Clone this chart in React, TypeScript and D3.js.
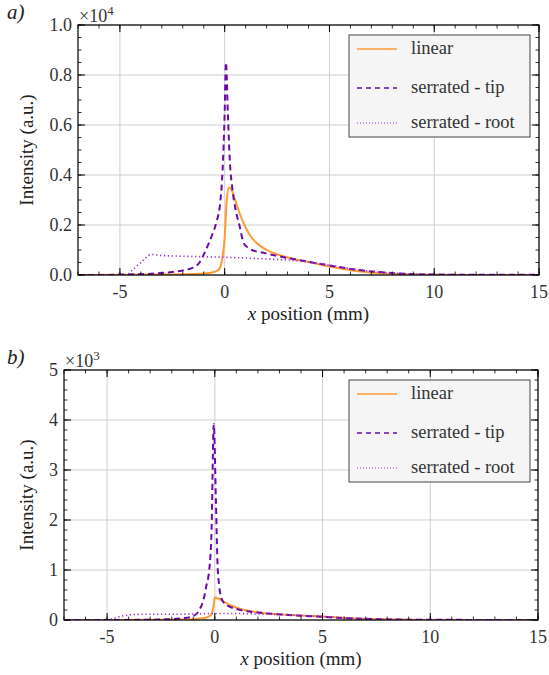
import React from "react";
import * as d3 from "d3";

// ---------- Data (panel a, intensity in units of 1e4) ----------
const aLinearX = [-7, -3, -1.5, -1, -0.6, -0.3, -0.15, 0, 0.1, 0.2, 0.3, 0.5, 0.7, 1, 1.2, 1.5, 2, 2.6, 3.4, 4, 5, 6, 6.6, 7.5, 8.2, 9, 10, 12, 15];
const aLinearY = [0, 0.002, 0.004, 0.006, 0.01, 0.02, 0.05, 0.15, 0.3, 0.35, 0.345, 0.3, 0.25, 0.19, 0.16, 0.13, 0.1, 0.08, 0.062, 0.052, 0.034, 0.02, 0.013, 0.007, 0.004, 0.002, 0.001, 0, 0];

const aTipX = [-7, -6, -4.7, -3.5, -3, -2.5, -2, -1.5, -1.2, -0.9, -0.6, -0.4, -0.2, -0.1, 0, 0.06, 0.15, 0.25, 0.36, 0.5, 0.7, 0.9, 1.1, 1.3, 1.8, 2.3, 3.4, 5, 6.6, 8.2, 9.8, 12, 15];
const aTipY = [0, 0, 0.002, 0.005, 0.008, 0.012, 0.018, 0.03, 0.05, 0.1, 0.16, 0.21, 0.3, 0.42, 0.65, 0.85, 0.65, 0.45, 0.35, 0.27, 0.2, 0.13, 0.11, 0.1, 0.09, 0.08, 0.062, 0.038, 0.018, 0.007, 0.002, 0.001, 0.001];

const aRootX = [-7, -4.7, -4.4, -4, -3.5, -3, -2, -1, 0, 1, 2, 3, 4, 5, 6, 7, 8, 9, 10, 12, 15];
const aRootY = [0, 0, 0.02, 0.05, 0.082, 0.078, 0.075, 0.073, 0.071, 0.068, 0.064, 0.06, 0.052, 0.04, 0.025, 0.015, 0.008, 0.004, 0.002, 0.001, 0.001];

// ---------- Data (panel b, intensity in units of 1e3) ----------
const bLinearX = [-7, -3, -1.5, -1, -0.7, -0.4, -0.18, -0.05, 0, 0.2, 0.4, 0.8, 1.2, 1.6, 2.2, 3.1, 4, 5, 6.25, 7, 7.8, 9, 10, 15];
const bLinearY = [0, 0.003, 0.008, 0.015, 0.03, 0.05, 0.1, 0.3, 0.45, 0.42, 0.37, 0.28, 0.22, 0.18, 0.14, 0.11, 0.09, 0.07, 0.035, 0.022, 0.013, 0.005, 0.002, 0];

const bTipX = [-7, -5, -3, -2.3, -1.6, -1.05, -0.72, -0.5, -0.4, -0.26, -0.15, -0.05, 0.05, 0.13, 0.2, 0.28, 0.45, 0.67, 1, 1.6, 2.2, 3.1, 4, 4.7, 5.5, 6.5, 7.5, 8.5, 10, 15];
const bTipY = [0, 0, 0.005, 0.013, 0.03, 0.07, 0.2, 0.45, 0.67, 1.0, 1.8, 3.92, 2.4, 1.07, 0.7, 0.47, 0.33, 0.27, 0.22, 0.17, 0.14, 0.11, 0.085, 0.07, 0.05, 0.03, 0.017, 0.008, 0.003, 0.002];

const bRootX = [-7, -5.2, -4.8, -4.4, -4, -3.8, -3, -2, -1, 0, 1, 2, 3, 4, 5, 6, 7, 8, 10, 15];
const bRootY = [0, 0, 0.02, 0.07, 0.1, 0.11, 0.115, 0.115, 0.12, 0.13, 0.13, 0.12, 0.11, 0.09, 0.07, 0.045, 0.025, 0.012, 0.003, 0.001];

const seriesNames = ["linear", "serrated - tip", "serrated - root"];
const xTicks = [-5, 0, 5, 10, 15];
const aYTicks = [0, 0.2, 0.4, 0.6, 0.8, 1.0];
const aYTickLabels = ["0.0", "0.2", "0.4", "0.6", "0.8", "1.0"];
const bYTicks = [0, 1, 2, 3, 4, 5];
const bYTickLabels = ["0", "1", "2", "3", "4", "5"];

const ORANGE = "#ff9a33";
const TIP = "#6a0aa8";
const ROOT = "#9b35d0";
const FONT = '"Liberation Serif", "DejaVu Serif", "Times New Roman", serif';
const FS_TICK = 18;
const FS_LABEL = 19;
const FS_LEG = 18.5;

type Series = { x: number[]; y: number[]; color: string; dash: string; width: number };

type PanelProps = {
  left: number; right: number; top: number; bottom: number;
  yMax: number; yTicks: number[]; yTickLabels: string[]; yMinorStep: number;
  exponent: string; label: string; series: Series[];
  legend: { x0: number; x1: number; y0: number; y1: number; rows: number[] };
};

const txt = (size: number, italic = false): React.CSSProperties => ({
  fontFamily: FONT, fontSize: size + "px", fontStyle: italic ? "italic" : "normal",
});

function Panel(p: PanelProps) {
  const x = d3.scaleLinear().domain([-7, 15]).range([p.left, p.right]);
  const y = d3.scaleLinear().domain([0, p.yMax]).range([p.bottom, p.top]);
  const line = d3.line<[number, number]>().x(d => x(d[0])).y(d => y(d[1])).curve(d3.curveMonotoneX);
  const xMinor = d3.range(-7, 15.01, 1);
  const yMinor = d3.range(0, p.yMax + 1e-9, p.yMinorStep);
  const clipId = "clip" + p.label;
  return (
    <g>
      <defs>
        <clipPath id={clipId}>
          <rect x={p.left} y={p.top} width={p.right - p.left} height={p.bottom - p.top} />
        </clipPath>
      </defs>
      {xTicks.map(t => (
        <line key={"gx" + t} x1={x(t)} x2={x(t)} y1={p.top} y2={p.bottom} stroke="#cfcfcf" strokeWidth={1} />
      ))}
      {p.yTicks.map(t => (
        <line key={"gy" + t} x1={p.left} x2={p.right} y1={y(t)} y2={y(t)} stroke="#cfcfcf" strokeWidth={1} />
      ))}
      <g clipPath={`url(#${clipId})`}>
        {p.series.map((s, i) => (
          <path key={i} d={line(s.x.map((v, j) => [v, s.y[j]] as [number, number])) || ""}
            fill="none" stroke={s.color} strokeWidth={s.width} strokeDasharray={s.dash} />
        ))}
      </g>
      {xMinor.map(t => (
        <g key={"mx" + t}>
          <line x1={x(t)} x2={x(t)} y1={p.bottom} y2={p.bottom - 3.5} stroke="#000" strokeWidth={0.8} />
          <line x1={x(t)} x2={x(t)} y1={p.top} y2={p.top + 3.5} stroke="#000" strokeWidth={0.8} />
        </g>
      ))}
      {xTicks.map(t => (
        <g key={"Mx" + t}>
          <line x1={x(t)} x2={x(t)} y1={p.bottom} y2={p.bottom - 7} stroke="#000" strokeWidth={1} />
          <line x1={x(t)} x2={x(t)} y1={p.top} y2={p.top + 7} stroke="#000" strokeWidth={1} />
          <text x={x(t)} y={p.bottom + 23} textAnchor="middle" style={txt(FS_TICK)} fill="#333">
            {t < 0 ? "-" + Math.abs(t) : String(t)}
          </text>
        </g>
      ))}
      {yMinor.map((t, i) => (
        <g key={"my" + i}>
          <line x1={p.left} x2={p.left + 3.5} y1={y(t)} y2={y(t)} stroke="#000" strokeWidth={0.8} />
          <line x1={p.right} x2={p.right - 3.5} y1={y(t)} y2={y(t)} stroke="#000" strokeWidth={0.8} />
        </g>
      ))}
      {p.yTicks.map((t, i) => (
        <g key={"My" + t}>
          <line x1={p.left} x2={p.left + 7} y1={y(t)} y2={y(t)} stroke="#000" strokeWidth={1} />
          <line x1={p.right} x2={p.right - 7} y1={y(t)} y2={y(t)} stroke="#000" strokeWidth={1} />
          <text x={p.left - 6} y={y(t) + 6} textAnchor="end" style={txt(FS_TICK)} fill="#333">
            {p.yTickLabels[i]}
          </text>
        </g>
      ))}
      <rect x={p.left} y={p.top} width={p.right - p.left} height={p.bottom - p.top} fill="none" stroke="#000" strokeWidth={1.2} />
      <text x={p.left + 1} y={p.top - 3} style={txt(18)} fill="#333">
        ×10<tspan dy={-7} style={txt(13)}>{p.exponent}</tspan>
      </text>
      <text x={(p.left + p.right) / 2} y={p.bottom + 45} textAnchor="middle" style={txt(FS_LABEL)} fill="#222">
        <tspan style={txt(FS_LABEL, true)}>x</tspan> position (mm)
      </text>
      <text transform={`translate(${33},${(p.top + p.bottom) / 2}) rotate(-90)`} textAnchor="middle" style={txt(FS_LABEL)} fill="#222">
        Intensity (a.u.)
      </text>
      <text x={7} y={p.top - 6} style={txt(21, true)} fill="#222">{p.label})</text>
      <rect x={p.legend.x0} y={p.legend.y0} width={p.legend.x1 - p.legend.x0} height={p.legend.y1 - p.legend.y0}
        fill="#f5f5f5" stroke="#444" strokeWidth={1} />
      {p.series.map((s, i) => (
        <g key={"lg" + i}>
          <line x1={p.legend.x0 + 8} x2={p.legend.x0 + 48} y1={p.legend.rows[i]} y2={p.legend.rows[i]}
            stroke={s.color} strokeWidth={i === 2 ? 1.2 : 1.4} strokeDasharray={i === 1 ? "5,4" : i === 2 ? "1,2" : ""} />
          <text x={p.legend.x0 + 62} y={p.legend.rows[i] + 5} style={txt(FS_LEG)} fill="#333">{seriesNames[i]}</text>
        </g>
      ))}
    </g>
  );
}

export default function App() {
  const aSeries: Series[] = [
    { x: aLinearX, y: aLinearY, color: ORANGE, dash: "", width: 2 },
    { x: aTipX, y: aTipY, color: TIP, dash: "6,4", width: 2 },
    { x: aRootX, y: aRootY, color: ROOT, dash: "1.3,2.6", width: 1.6 },
  ];
  const bSeries: Series[] = [
    { x: bLinearX, y: bLinearY, color: ORANGE, dash: "", width: 2 },
    { x: bTipX, y: bTipY, color: TIP, dash: "6,4", width: 2 },
    { x: bRootX, y: bRootY, color: ROOT, dash: "1.3,2.6", width: 1.6 },
  ];
  return (
    <svg width={549} height={675} style={{ position: "absolute", left: 0, top: 0, background: "#fff" }}>
      <Panel left={78} right={539} top={25} bottom={275} yMax={1.0} yTicks={aYTicks} yTickLabels={aYTickLabels}
        yMinorStep={0.05} exponent="4" label="a" series={aSeries}
        legend={{ x0: 349, x1: 530, y0: 35, y1: 137, rows: [49, 88, 123] }} />
      <Panel left={64} right={538} top={370} bottom={620} yMax={5} yTicks={bYTicks} yTickLabels={bYTickLabels}
        yMinorStep={0.2} exponent="3" label="b" series={bSeries}
        legend={{ x0: 349, x1: 530, y0: 380, y1: 482, rows: [394, 433, 468] }} />
    </svg>
  );
}
